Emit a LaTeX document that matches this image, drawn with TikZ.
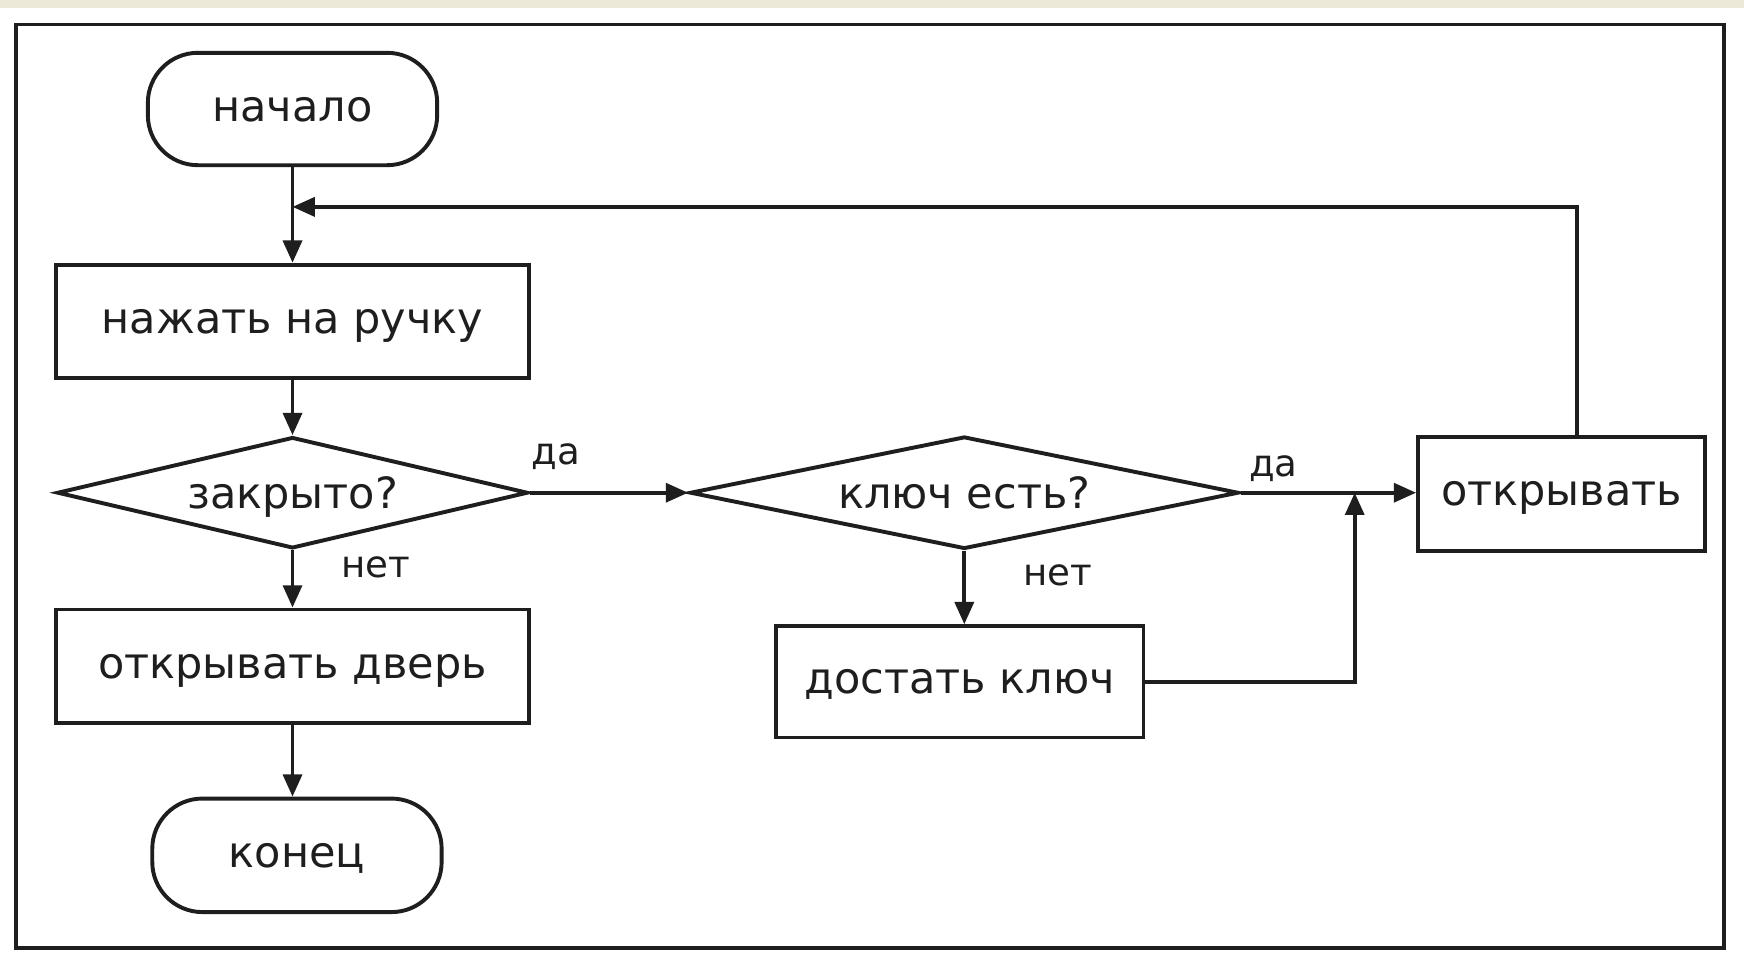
\documentclass[tikz,border=0pt]{standalone}
\usepackage{fontspec}
\setmainfont{DejaVu Sans}
\usetikzlibrary{shapes.geometric,arrows.meta}
\definecolor{ink}{HTML}{1E1E1E}
\definecolor{xpbeige}{HTML}{ECE9D8}
\tikzset{
  box/.style={draw=ink, line width=1pt, rectangle, inner sep=0pt, text=ink, text depth=0pt, font=\fontsize{11}{13}\selectfont},
  term/.style={box, rounded corners=0.45cm},
  dec/.style={draw=ink, line width=1pt, diamond, inner sep=0pt},
  dectext/.style={text=ink, text depth=0pt, font=\fontsize{11}{13}\selectfont, inner sep=0pt},
  lbl/.style={text=ink, font=\fontsize{9.5}{11}\selectfont, inner sep=0pt},
  arr/.style={draw=ink, line width=0.95pt, -{Triangle[length=0.2cm,width=0.17cm]}},
  ln/.style={draw=ink, line width=0.95pt}
}
\begin{document}
\begin{tikzpicture}[x=0.01cm,y=-0.01cm]
\useasboundingbox (0,0) rectangle (1568,863);
\fill[white] (0,0) rectangle (1568,863);
\fill[xpbeige] (0,0) rectangle (1568,7);
\draw[ink, line width=1pt] (14,22) rectangle (1550,852);

\node[term, minimum width=2.6cm, minimum height=1.01cm] (start) at (263,98) {начало};
\node[box, minimum width=4.25cm, minimum height=1.02cm] (press) at (263,289) {нажать на ручку};
\node[dec, minimum width=4.23cm, minimum height=1.0cm] (d1) at (263,443) {};
\node[dectext] (d1t) at (d1) {закрыто?};
\node[box, minimum width=4.25cm, minimum height=1.02cm] (open) at (263,599) {открывать дверь};
\node[term, minimum width=2.6cm, minimum height=1.02cm] (end) at (267,769) {конец};

\node[dec, minimum width=4.93cm, minimum height=1.01cm] (d2) at (867,443) {};
\node[dectext] (d2t) at (d2) {ключ есть?};
\node[box, minimum width=3.3cm, minimum height=1.0cm] (get) at (863,613) {достать ключ};
\node[box, minimum width=2.58cm, minimum height=1.02cm] (op) at (1404,444) {открывать};

\coordinate (join) at (263,186);
\coordinate (loopx) at (1418,186);
\coordinate (merge) at (1218,443);

\draw[ln] (start.south) -- (join);
\draw[arr] (join) -- (press.north);
\draw[arr] (press.south) -- (d1.north);
\draw[arr] (d1.south) -- (open.north);
\draw[arr] (open.south) -- (open.south |- end.north);
\draw[arr] (d1.east) -- (d2.west);
\draw[arr] (d2.south) -- (d2.south |- get.north);
\draw[arr] (d2.east) -- (d2.east -| op.west);
\draw[arr] (get.east) -| (merge);
\draw[arr] (op.north -| loopx) |- (join);

\node[lbl] (l1) at (500,411) {да};
\node[lbl] (l2) at (338,510) {нет};
\node[lbl] (l3) at (1145,421) {да};
\node[lbl] (l4) at (951,517) {нет};
\end{tikzpicture}
\end{document}
